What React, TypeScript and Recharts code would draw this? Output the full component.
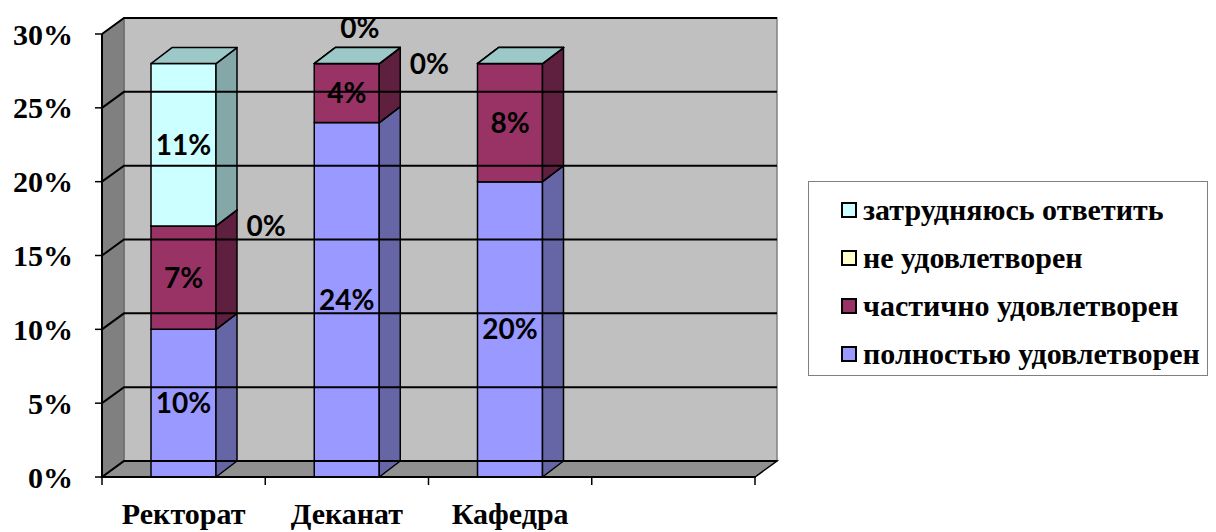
// @ts-nocheck
import React from 'react';
import { BarChart, Bar, XAxis, YAxis, ReferenceArea, ReferenceLine, LabelList, Legend } from 'recharts';

const categories = ['Ректорат', 'Деканат', 'Кафедра', ''];
const fullySatisfied = [10, 24, 20, null];
const partlySatisfied = [7, 4, 8, null];
const notSatisfied = [0, 0, 0, null];
const hardToSay = [11, 0, 0, null];
const yTicks = [0, 5, 10, 15, 20, 25, 30];
const seriesNames = ['полностью удовлетворен', 'частично удовлетворен', 'не удовлетворен', 'затрудняюсь ответить'];
// Excel hid the zero labels on this column
const hiddenZeroLabels = ['Кафедра'];

const SERIF = 'Liberation Serif';
const SANS = 'Lato';
const DX = 22;
const DY = 16;

const data = categories.map((name, i) => ({
  name,
  full: fullySatisfied[i],
  partly: partlySatisfied[i],
  not: notSatisfied[i],
  hard: hardToSay[i],
}));

const make3D = (key, front, side, top) => (props) => {
  const { x, y, width, height, payload } = props;
  if (payload == null || payload[key] == null) return null;
  const bx = 21;
  const by = 16;
  return (
    <g stroke="#000" strokeWidth={1.5} strokeLinejoin="round">
      <rect x={x} y={y} width={width} height={Math.max(height, 0)} fill={front} />
      <polygon
        points={`${x + width},${y} ${x + width + bx},${y - by} ${x + width + bx},${y + height - by} ${x + width},${y + height}`}
        fill={side}
      />
      <polygon
        points={`${x},${y} ${x + bx},${y - by} ${x + width + bx},${y - by} ${x + width},${y}`}
        fill={top}
      />
    </g>
  );
};

const Walls = ({ x, y, width, height }) => (
  <g>
    <rect x={x + DX} y={y - DY} width={width} height={height} fill="#c0c0c0" stroke="#808080" strokeWidth={1.5} />
    <polygon
      points={`${x},${y} ${x + DX},${y - DY} ${x + DX},${y + height - DY} ${x},${y + height}`}
      fill="#808080"
      stroke="#606060"
    />
    <polygon
      points={`${x},${y + height} ${x + DX},${y + height - DY} ${x + width + DX},${y + height - DY} ${x + width},${y + height}`}
      fill="#909090"
      stroke="#000"
      strokeWidth={1.5}
    />
  </g>
);

const GridLine = ({ x1, y1, x2, y2 }) => (
  <path d={`M${x1},${y1} L${x1 + DX},${y1 - DY} L${x2 + DX},${y2 - DY}`} fill="none" stroke="#000" strokeWidth={2} />
);

const CategoryTick = ({ x, y, payload, index }) => {
  const half = payload.offset || 0;
  return (
    <g>
      <line x1={x - half} y1={y - 8} x2={x - half} y2={y} stroke="#000" strokeWidth={1.5} />
      {index === categories.length - 1 && (
        <line x1={x + half} y1={y - 8} x2={x + half} y2={y} stroke="#000" strokeWidth={1.5} />
      )}
      <text x={x} y={y + 39} textAnchor="middle" fontFamily={SERIF} fontWeight={700} fontSize={30} fill="#000">
        {payload.value}
      </text>
    </g>
  );
};

const makeLabel = (kind) => (props) => {
  const { x, y, width, height, value, index } = props;
  if (value == null) return null;
  let cx = x + width / 2;
  let cy = y + height / 2;
  if (value === 0) {
    if (hiddenZeroLabels.includes(categories[index])) return null;
    if (kind === 'not') {
      cx = x + width + 50;
      cy = y;
    } else {
      cx = x + width / 2 + 13;
      cy = y - 36;
    }
  }
  return (
    <text x={cx} y={cy} dy="0.36em" textAnchor="middle" fontFamily={SANS} fontWeight={700} fontSize={28} fill="#000">
      {value}%
    </text>
  );
};

const LegendBox = ({ payload }) => {
  const items = [...seriesNames].reverse().map((n) => (payload || []).find((p) => p.value === n)).filter(Boolean);
  return (
    <div
      style={{
        width: 400,
        height: 195,
        boxSizing: 'border-box',
        border: '1.5px solid #808080',
        background: '#fff',
        paddingTop: 4,
      }}
    >
      {items.map((p) => (
        <div key={p.value} style={{ display: 'flex', alignItems: 'center', height: 48, paddingLeft: 32 }}>
          <span
            style={{
              display: 'inline-block',
              width: 12,
              height: 12,
              background: p.color,
              border: '2px solid #000',
              marginRight: 6,
            }}
          />
          <span style={{ fontFamily: SERIF, fontWeight: 700, fontSize: 30, color: '#000', lineHeight: 1 }}>{p.value}</span>
        </div>
      ))}
    </div>
  );
};

export default function App() {
  return (
    <div style={{ position: 'absolute', left: 0, top: 0, width: 1216, height: 532, background: '#fff' }}>
      <BarChart
        width={1216}
        height={532}
        data={data}
        margin={{ top: 34, right: 461, bottom: 0, left: 2 }}
        barSize={65}
      >
        <ReferenceArea y1={0} y2={30} shape={Walls} ifOverflow="visible" />
        {yTicks.map((t) => (
          <ReferenceLine key={t} y={t} shape={GridLine} ifOverflow="visible" />
        ))}
        <XAxis
          dataKey="name"
          height={55}
          axisLine={{ stroke: '#000', strokeWidth: 2 }}
          tickLine={false}
          tick={CategoryTick}
          interval={0}
        />
        <YAxis
          width={100}
          domain={[0, 30]}
          ticks={yTicks}
          tickFormatter={(v) => `${v}%`}
          axisLine={{ stroke: '#000', strokeWidth: 2 }}
          tickLine={{ stroke: '#000', strokeWidth: 1.5 }}
          tickSize={7}
          tickMargin={22}
          tick={{ fill: '#000', fontSize: 30, fontWeight: 700, fontFamily: SERIF }}
        />
        <Bar dataKey="full" name={seriesNames[0]} stackId="a" fill="#9999ff" isAnimationActive={false}
          shape={make3D('full', '#9999ff', '#6666a6', '#7a7acc')}>
          <LabelList dataKey="full" content={makeLabel('full')} />
        </Bar>
        <Bar dataKey="partly" name={seriesNames[1]} stackId="a" fill="#993366" isAnimationActive={false}
          shape={make3D('partly', '#993366', '#5f1f3f', '#7a2952')}>
          <LabelList dataKey="partly" content={makeLabel('partly')} />
        </Bar>
        <Bar dataKey="not" name={seriesNames[2]} stackId="a" fill="#ffffcc" isAnimationActive={false}
          shape={make3D('not', '#ffffcc', '#a8a888', '#ccccA3')}>
          <LabelList dataKey="not" content={makeLabel('not')} />
        </Bar>
        <Bar dataKey="hard" name={seriesNames[3]} stackId="a" fill="#ccffff" isAnimationActive={false}
          shape={make3D('hard', '#ccffff', '#84a8a8', '#9cc8c8')}>
          <LabelList dataKey="hard" content={makeLabel('hard')} />
        </Bar>
        <Legend
          layout="vertical"
          align="center"
          verticalAlign="middle"
          content={LegendBox}
          wrapperStyle={{ position: 'absolute', left: 808, top: 181, width: 400, height: 195 }}
        />
      </BarChart>
    </div>
  );
}
